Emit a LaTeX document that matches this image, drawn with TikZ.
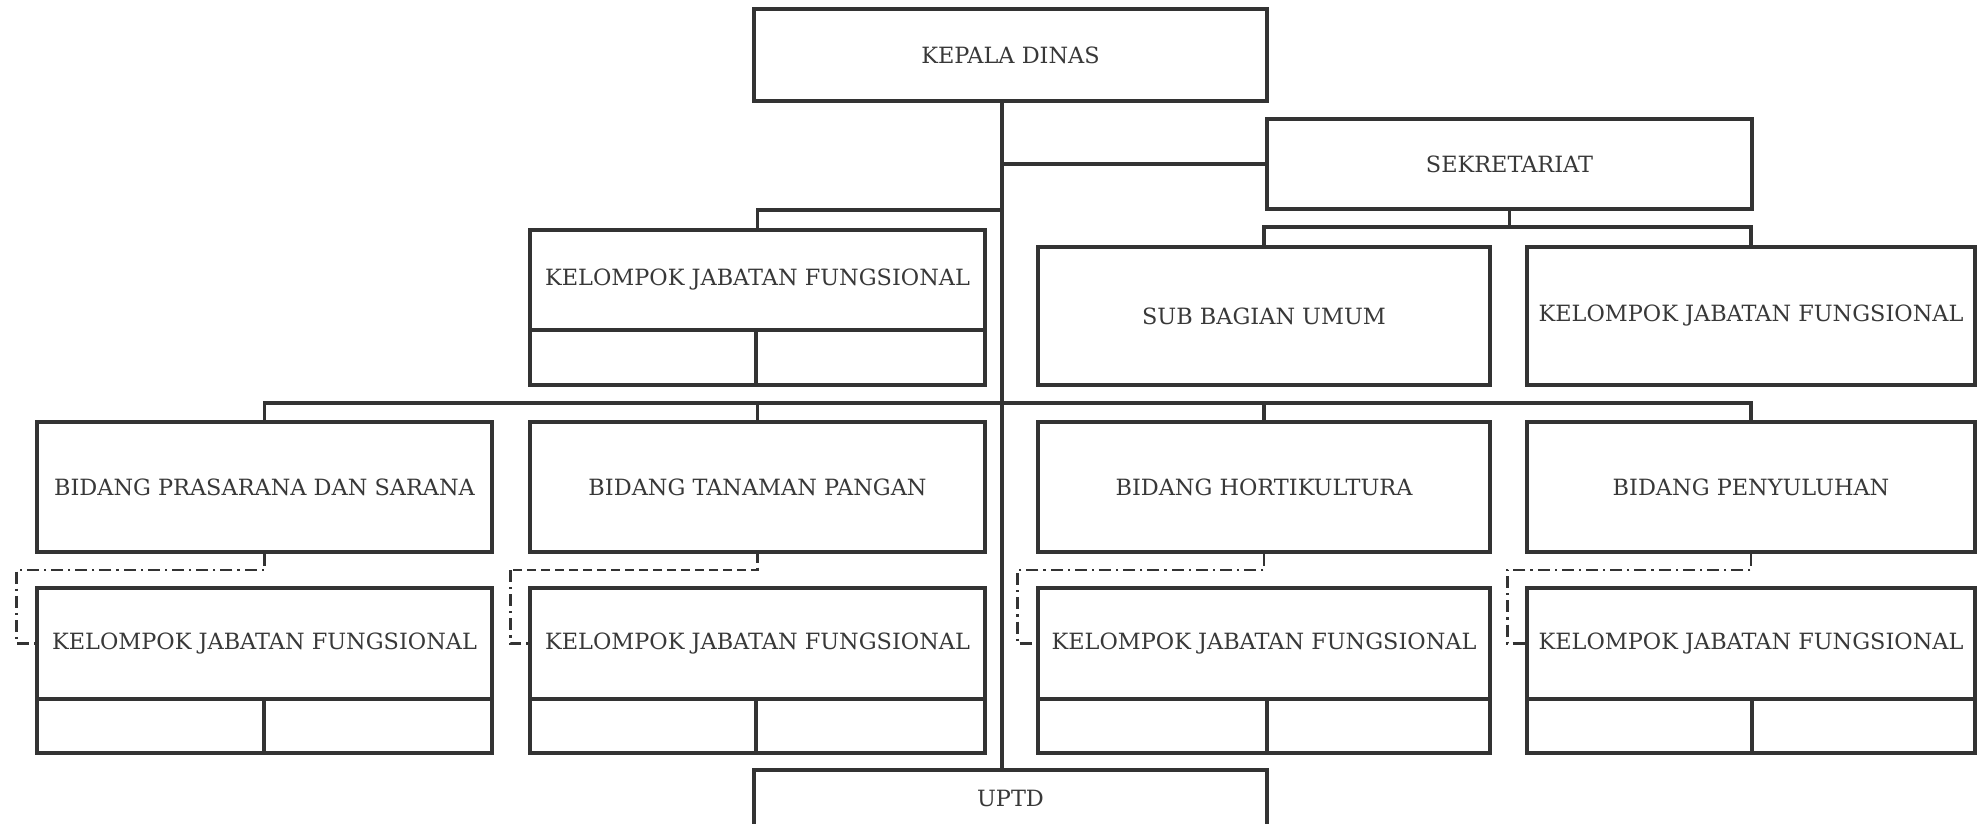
\documentclass[tikz,border=0pt]{standalone}
\usepackage{fontspec}
\setmainfont{DejaVu Serif}
\definecolor{ln}{HTML}{333333}
\definecolor{tx}{HTML}{383838}
\newcommand\lbltxt{\fontsize{11.2}{13}\selectfont}
\begin{document}
\begin{tikzpicture}[x=0.5pt,y=-0.5pt,
  box/.style={draw=ln, line width=1.7pt, inner sep=0pt, text=tx, font=\lbltxt},
  conn/.style={draw=ln, line width=1.7pt},
  dd/.style={draw=ln, line width=1.4pt, dash pattern=on 6pt off 2.5pt on 1.1pt off 2.5pt},
  ds/.style={draw=ln, line width=1.4pt, dash pattern=on 4.5pt off 2.5pt}]
\useasboundingbox (0,0) rectangle (1977,824);
\clip (0,0) rectangle (1977,824);

% top
\node[box, minimum width=256.5pt, minimum height=46pt] (kd) at (1010.5,55) {KEPALA DINAS};
\node[box, minimum width=242.5pt, minimum height=45pt] (sek) at (1509.5,164) {SEKRETARIAT};
\node[box, minimum width=226pt, minimum height=69pt] (sub) at (1264,316) {SUB BAGIAN UMUM};
\node[box, minimum width=224pt, minimum height=69pt] (kjfr) at (1751,316) {KELOMPOK JABATAN FUNGSIONAL};

\node[box, minimum width=227.5pt, minimum height=50pt] (kjft) at (757.5,280) {KELOMPOK JABATAN FUNGSIONAL};
\node[box, minimum width=113pt, minimum height=27.5pt] (kjfta) at (643,357.5) {};
\node[box, minimum width=114.5pt, minimum height=27.5pt] (kjftb) at (870.5,357.5) {};

% bidang row
\node[box, minimum width=227.5pt, minimum height=65pt] (bp) at (264.5,487) {BIDANG PRASARANA DAN SARANA};
\node[box, minimum width=227.5pt, minimum height=65pt] (bt) at (757.5,487) {BIDANG TANAMAN PANGAN};
\node[box, minimum width=226pt, minimum height=65pt] (bh) at (1264,487) {BIDANG HORTIKULTURA};
\node[box, minimum width=224pt, minimum height=65pt] (bpy) at (1751,487) {BIDANG PENYULUHAN};

% kelompok row
\node[box, minimum width=227.5pt, minimum height=55.5pt] (k1) at (264.5,643.5) {KELOMPOK JABATAN FUNGSIONAL};
\node[box, minimum width=113.5pt, minimum height=27pt] (k1a) at (150.5,726) {};
\node[box, minimum width=114pt, minimum height=27pt] (k1b) at (378,726) {};
\node[box, minimum width=227.5pt, minimum height=55.5pt] (k2) at (757.5,643.5) {KELOMPOK JABATAN FUNGSIONAL};
\node[box, minimum width=113pt, minimum height=27pt] (k2a) at (643,726) {};
\node[box, minimum width=114.5pt, minimum height=27pt] (k2b) at (870.5,726) {};
\node[box, minimum width=226pt, minimum height=55.5pt] (k3) at (1264,643.5) {KELOMPOK JABATAN FUNGSIONAL};
\node[box, minimum width=114.5pt, minimum height=27pt] (k3a) at (1152.5,726) {};
\node[box, minimum width=111.5pt, minimum height=27pt] (k3b) at (1378.5,726) {};
\node[box, minimum width=224pt, minimum height=55.5pt] (k4) at (1751,643.5) {KELOMPOK JABATAN FUNGSIONAL};
\node[box, minimum width=112.5pt, minimum height=27pt] (k4a) at (1639.5,726) {};
\node[box, minimum width=111.5pt, minimum height=27pt] (k4b) at (1863.5,726) {};

\node[box, minimum width=256.5pt, minimum height=28pt] (up) at (1010.5,798) {UPTD};

% solid connectors
\coordinate (trunk) at (1002,0);
\coordinate (lb) at (0,210);
\coordinate (sb) at (0,227);
\coordinate (bb) at (0,403);
\draw[conn] (kd.south -| trunk) -- (up.north -| trunk);
\draw[conn] (sek.west) -- (sek.west -| trunk);
\draw[conn] (kjft.north) -- (kjft.north |- lb) -- (lb -| trunk);
\draw[conn] (sek.south) -- (sek.south |- sb);
\draw[conn] (sub.north) -- (sub.north |- sb) -- (kjfr.north |- sb) -- (kjfr.north);
\draw[conn] (bp.north) -- (bp.north |- bb) -- (bpy.north |- bb) -- (bpy.north);
\draw[conn] (bt.north) -- (bt.north |- bb);
\draw[conn] (bh.north) -- (bh.north |- bb);

% dashed connectors
\coordinate (db) at (0,570);
\coordinate (c1) at ([xshift=-9.5pt]k1.west);
\coordinate (c2) at ([xshift=-9pt]k2.west);
\coordinate (c3) at ([xshift=-9.5pt]k3.west);
\coordinate (c4) at ([xshift=-9pt]k4.west);
\draw[dd] (bp.south) -- (bp.south |- db) -- (c1 |- db) -- (c1) -- (k1.west);
\draw[ds] (bt.south) -- (bt.south |- db) -- (c2 |- db);
\draw[dd] (c2 |- db) -- (c2) -- (k2.west);
\draw[dd] (bh.south) -- (bh.south |- db) -- (c3 |- db) -- (c3) -- (k3.west);
\draw[dd] (bpy.south) -- (bpy.south |- db) -- (c4 |- db) -- (c4) -- (k4.west);
\end{tikzpicture}
\end{document}
